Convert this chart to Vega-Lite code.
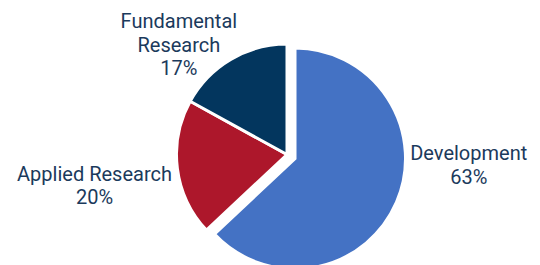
{
  "$schema": "https://vega.github.io/schema/vega-lite/v6.json",
  "width": 506,
  "height": 221,
  "autosize": {"type": "none"},
  "padding": {"left": 34, "top": 44, "right": 0, "bottom": 0},
  "background": "white",
  "view": {"stroke": null},
  "data": {
    "values": [
      {"category": "Development", "label": "Development\n63%", "share": 63},
      {"category": "Applied Research", "label": "Applied Research\n20%", "share": 20},
      {"category": "Fundamental Research", "label": "Fundamental\nResearch\n17%", "share": 17}
    ]
  },
  "encoding": {
    "theta": {"field": "share", "type": "quantitative", "stack": true},
    "order": {"field": "share", "type": "quantitative", "sort": "descending"},
    "detail": {"field": "category", "type": "nominal"}
  },
  "layer": [
    {
      "mark": {"type": "arc", "stroke": "white", "strokeWidth": 3},
      "encoding": {
        "color": {
          "field": "category",
          "type": "nominal",
          "scale": {
            "domain": ["Development", "Applied Research", "Fundamental Research"],
            "range": ["#4472C4", "#AD172B", "#03365E"]
          },
          "legend": null
        },
        "opacity": {
          "condition": {"test": "datum.category === 'Development'", "value": 0},
          "value": 1
        }
      }
    },
    {
      "mark": {"type": "arc", "stroke": "white", "strokeWidth": 3, "xOffset": 8, "yOffset": 4},
      "encoding": {
        "color": {
          "field": "category",
          "type": "nominal",
          "scale": {
            "domain": ["Development", "Applied Research", "Fundamental Research"],
            "range": ["#4472C4", "#AD172B", "#03365E"]
          },
          "legend": null
        },
        "opacity": {
          "condition": {"test": "datum.category === 'Development'", "value": 1},
          "value": 0
        }
      }
    },
    {
      "mark": {"type": "text", "radius": 126, "dx": -44, "dy": -24, "align": "center", "baseline": "middle", "fontSize": 20, "font": "Roboto", "color": "#1B3A5C", "lineHeight": 23.5, "lineBreak": "\n"},
      "encoding": {
        "text": {
          "condition": {"test": "datum.category === 'Fundamental Research'", "field": "label", "type": "nominal"},
          "value": ""
        }
      }
    },
    {
      "mark": {"type": "text", "radius": 194, "dx": 0, "dy": -4, "align": "center", "baseline": "middle", "fontSize": 20, "font": "Roboto", "color": "#1B3A5C", "lineHeight": 23.5, "lineBreak": "\n"},
      "encoding": {
        "text": {
          "condition": {"test": "datum.category === 'Applied Research'", "field": "label", "type": "nominal"},
          "value": ""
        }
      }
    },
    {
      "mark": {"type": "text", "radius": 198, "dx": 0, "dy": -79, "align": "center", "baseline": "middle", "fontSize": 20, "font": "Roboto", "color": "#1B3A5C", "lineHeight": 23.5, "lineBreak": "\n"},
      "encoding": {
        "text": {
          "condition": {"test": "datum.category === 'Development'", "field": "label", "type": "nominal"},
          "value": ""
        }
      }
    }
  ]
}
